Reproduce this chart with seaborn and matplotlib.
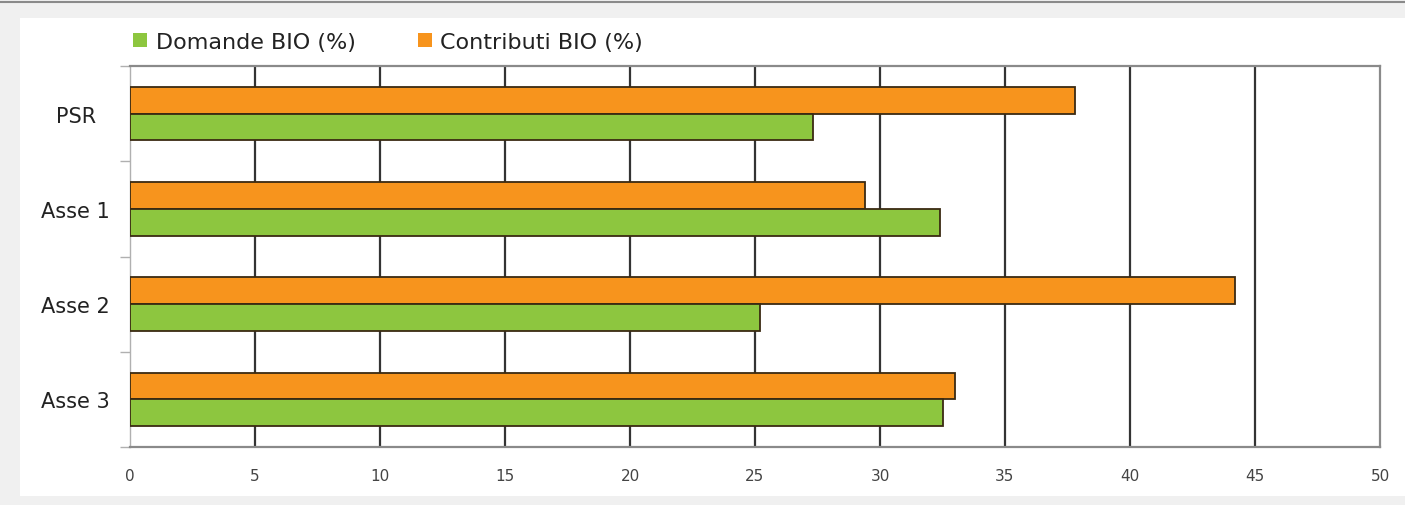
import numpy as np
import pandas as pd
import matplotlib as mpl; mpl.use("Agg")
import matplotlib.pyplot as plt
from matplotlib.patches import Patch, Rectangle
import seaborn as sns

# dati
categorie = ["PSR", "Asse 1", "Asse 2", "Asse 3"]
domande = [27.3, 32.4, 25.2, 32.5]
contributi = [37.8, 29.4, 44.2, 33.0]
serie = ["Contributi BIO (%)", "Domande BIO (%)"]
xticks = [0, 5, 10, 15, 20, 25, 30, 35, 40, 45, 50]

PAL = {"Domande BIO (%)": "#8dc63f", "Contributi BIO (%)": "#f7941d"}
EDGE = "#3a2a12"

df = pd.DataFrame({
    "cat": categorie * 2,
    "val": contributi + domande,
    "serie": [serie[0]] * 4 + [serie[1]] * 4,
})

sns.set_theme(style="white")
plt.rcParams["font.family"] = ["DejaVu Sans"]

W, H = 1405, 506
fig = plt.figure(figsize=(W / 100, H / 100), dpi=100, facecolor="#f0f0f0")
# pannello bianco + riga grigia in alto
fig.patches.append(Rectangle((20 / W, 9 / H), 1 - 20 / W, 1 - 28 / H, transform=fig.transFigure,
                             facecolor="white", edgecolor="none", zorder=-10))
fig.lines.append(plt.Line2D([0, 1], [1 - 3 / H, 1 - 3 / H], transform=fig.transFigure,
                            color="#8a8a8a", lw=1.5, zorder=-5))

ax = fig.add_axes([130 / W, 1 - 448 / H, 1250 / W, 381 / H])
ax.set_facecolor("white")
sns.barplot(data=df, y="cat", x="val", hue="serie", hue_order=serie, order=categorie,
            palette=PAL, saturation=1, orient="h", width=0.56, edgecolor=EDGE, linewidth=1.3,
            legend=False, ax=ax, zorder=3)

ax.set_xlim(0, 50)
ax.set_ylim(3.5, -0.5)
ax.set_xticks(xticks)
ax.set_xticklabels([str(t) for t in xticks], fontsize=11, color="#444444")
for t in xticks[1:-1]:
    ax.axvline(t, color="#333333", lw=1.6, zorder=1)
ax.set_yticks(range(len(categorie)))
ax.set_yticklabels(categorie, fontsize=15, color="#222222", ha="center")
ax.set_yticks(np.arange(-0.5, 4, 1), minor=True)
ax.tick_params(axis="y", which="major", length=0, pad=39)
ax.tick_params(axis="y", which="minor", left=True, length=7, color="#b0b0b0", width=1)
ax.tick_params(axis="x", length=0, pad=15)
ax.set_xlabel(""); ax.set_ylabel("")
for s in ("top", "right", "bottom"):
    ax.spines[s].set_color("#8a8a8a"); ax.spines[s].set_linewidth(1.6)
ax.spines["left"].set_color("#b0b0b0"); ax.spines["left"].set_linewidth(1.0)

handles = [Patch(facecolor=PAL["Domande BIO (%)"], edgecolor="none"),
           Patch(facecolor=PAL["Contributi BIO (%)"], edgecolor="none")]
fig.legend(handles, ["Domande BIO (%)", "Contributi BIO (%)"], loc="center left",
           bbox_to_anchor=(113 / W, 1 - 43 / H), ncol=2, frameon=False, fontsize=16,
           handlelength=0.62, handleheight=0.62, handletextpad=0.4, columnspacing=2.8,
           labelcolor="#222222")

fig.savefig("out.png", dpi=100, facecolor=fig.get_facecolor())
